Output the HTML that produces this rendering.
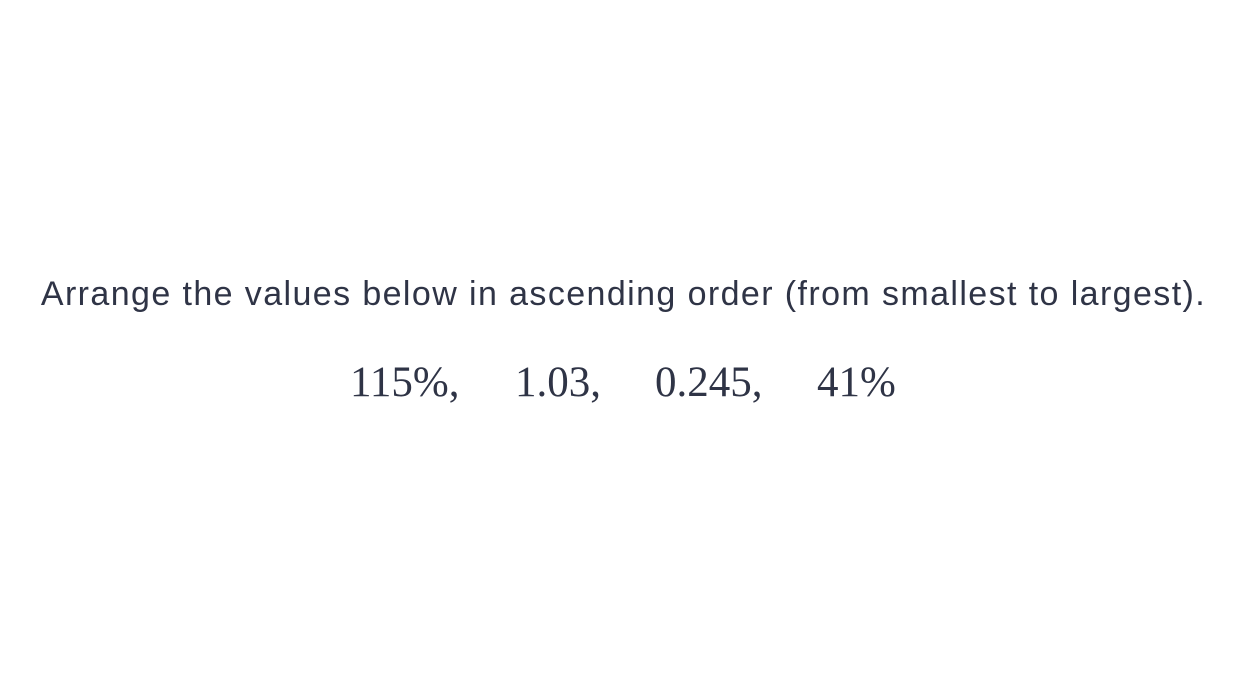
<!DOCTYPE html>
<html><head><meta charset="utf-8"><style>
html,body{margin:0;padding:0;background:#fff;width:1247px;height:691px;overflow:hidden;position:relative}
.q{position:absolute;left:0;width:1247px;top:275px;text-align:center;font-family:"Liberation Sans",sans-serif;font-size:34px;letter-spacing:1.4px;color:#2f3446;white-space:nowrap}
.v{position:absolute;top:358px;font-family:"Liberation Serif",serif;font-size:43px;color:#2f3446;white-space:nowrap}
</style></head><body>
<div class="q">Arrange the values below in ascending order (from smallest to largest).</div>
<span class="v" style="left:350px">115%,</span>
<span class="v" style="left:515px">1.03,</span>
<span class="v" style="left:655px">0.245,</span>
<span class="v" style="left:817px">41%</span>
</body></html>
